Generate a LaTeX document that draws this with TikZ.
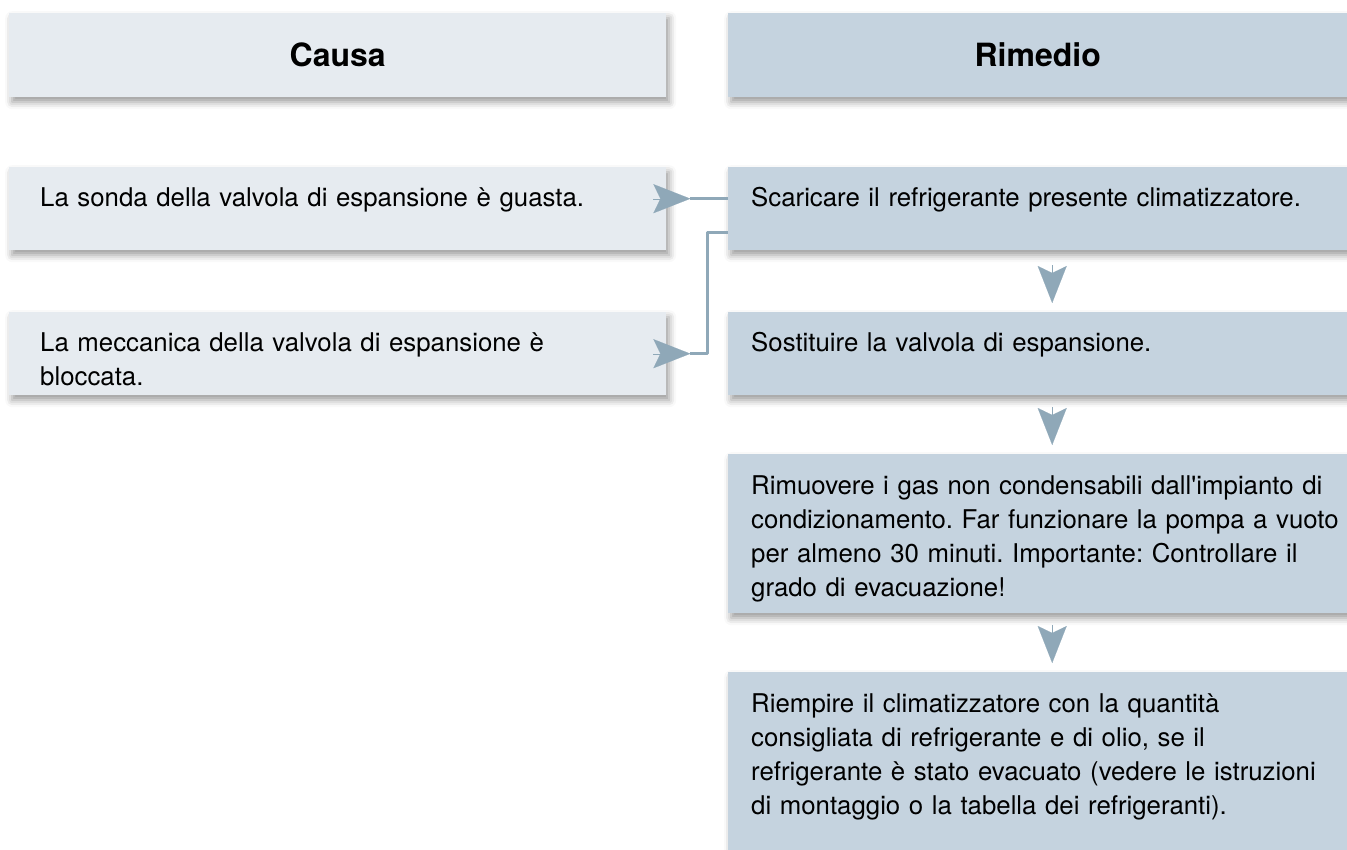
\documentclass[tikz,border=0pt]{standalone}
\usepackage{fontspec}
\setmainfont{TeX Gyre Heros}
\usetikzlibrary{arrows.meta,shadows.blur}
\definecolor{causefill}{HTML}{E6EBF0}
\definecolor{fixfill}{HTML}{C5D3DF}
\definecolor{flowcol}{HTML}{8FA8B8}
\frenchspacing
\begin{document}
\begin{tikzpicture}[x=1pt, y=-1pt, font=\fontsize{25.8}{34}\selectfont, line join=round,
    panel/.style={rectangle, inner sep=0pt, anchor=north west, blur shadow={shadow xshift=3pt, shadow yshift=-5pt, shadow blur radius=7pt, shadow opacity=40}},
    cause/.style={panel, fill=causefill, minimum width=657pt},
    fix/.style={panel, fill=fixfill, minimum width=648pt},
    head/.style={font=\fontsize{32}{38}\selectfont\bfseries, minimum height=84pt},
    txt/.style={anchor=base west, align=left, inner sep=0pt, text width=640pt},
    flowline/.style={draw=flowcol, line width=3pt},
    tip/.style={draw=flowcol, line width=0.1pt, -{Stealth[length=37pt, width=29pt, inset=7pt]}}]
  \useasboundingbox (0,0) rectangle (1347,850);
  \node[cause, head] (hcause) at (9,13) {Causa};
  \node[fix, head, minimum width=619pt] (hfix) at (728,13) {Rimedio};
  \node[cause, minimum height=83pt] (c1) at (9,167) {};
  \node[cause, minimum height=83pt] (c2) at (9,312) {};
  \node[fix, minimum height=83pt] (f1) at (728,167) {};
  \node[fix, minimum height=83pt] (f2) at (728,312) {};
  \node[fix, minimum height=159pt] (f3) at (728,454) {};
  \node[fix, minimum height=200pt] (f4) at (728,672) {};
  \node[txt] (c1t) at ([xshift=31pt, yshift=-40pt]c1.north west) {La sonda della valvola di espansione è guasta.};
  \node[txt] (c2t) at ([xshift=31pt, yshift=-40pt]c2.north west) {La meccanica della valvola di espansione è\\bloccata.};
  \node[txt] (f1t) at ([xshift=23pt, yshift=-40pt]f1.north west) {Scaricare il refrigerante presente climatizzatore.};
  \node[txt] (f2t) at ([xshift=23pt, yshift=-40pt]f2.north west) {Sostituire la valvola di espansione.};
  \node[txt] (f3t) at ([xshift=23pt, yshift=-40pt]f3.north west) {Rimuovere i gas non condensabili dall\textquotesingle impianto di\\condizionamento. Far funzionare la pompa a vuoto\\per almeno 30 minuti. Importante: Controllare il\\grado di evacuazione!};
  \node[txt] (f4t) at ([xshift=23pt, yshift=-40pt]f4.north west) {Riempire il climatizzatore con la quantità\\consigliata di refrigerante e di olio, se il\\refrigerante è stato evacuato (vedere le istruzioni\\di montaggio o la tabella dei refrigeranti).};
  \coordinate (k1) at ([xshift=24pt, yshift=10pt]c1.east);
  \coordinate (k2) at ([xshift=24pt]c2.east);
  \draw[flowline] (k1) -- ([yshift=10pt]f1.west);
  \draw[flowline] (k2) -| ([xshift=41pt]c2.east) |- ([yshift=-24pt]f1.west);
  \draw[tip] ([xshift=-37pt]k1) -- (k1);
  \draw[tip] ([xshift=-37pt]k2) -- (k2);
  \draw[tip, shorten <=15pt, shorten >=9pt] (f1.south) -- (f2.north);
  \draw[tip, shorten <=12pt, shorten >=9pt] (f2.south) -- (f3.north);
  \draw[tip, shorten <=12pt, shorten >=9pt] (f3.south) -- (f4.north);
\end{tikzpicture}
\end{document}
